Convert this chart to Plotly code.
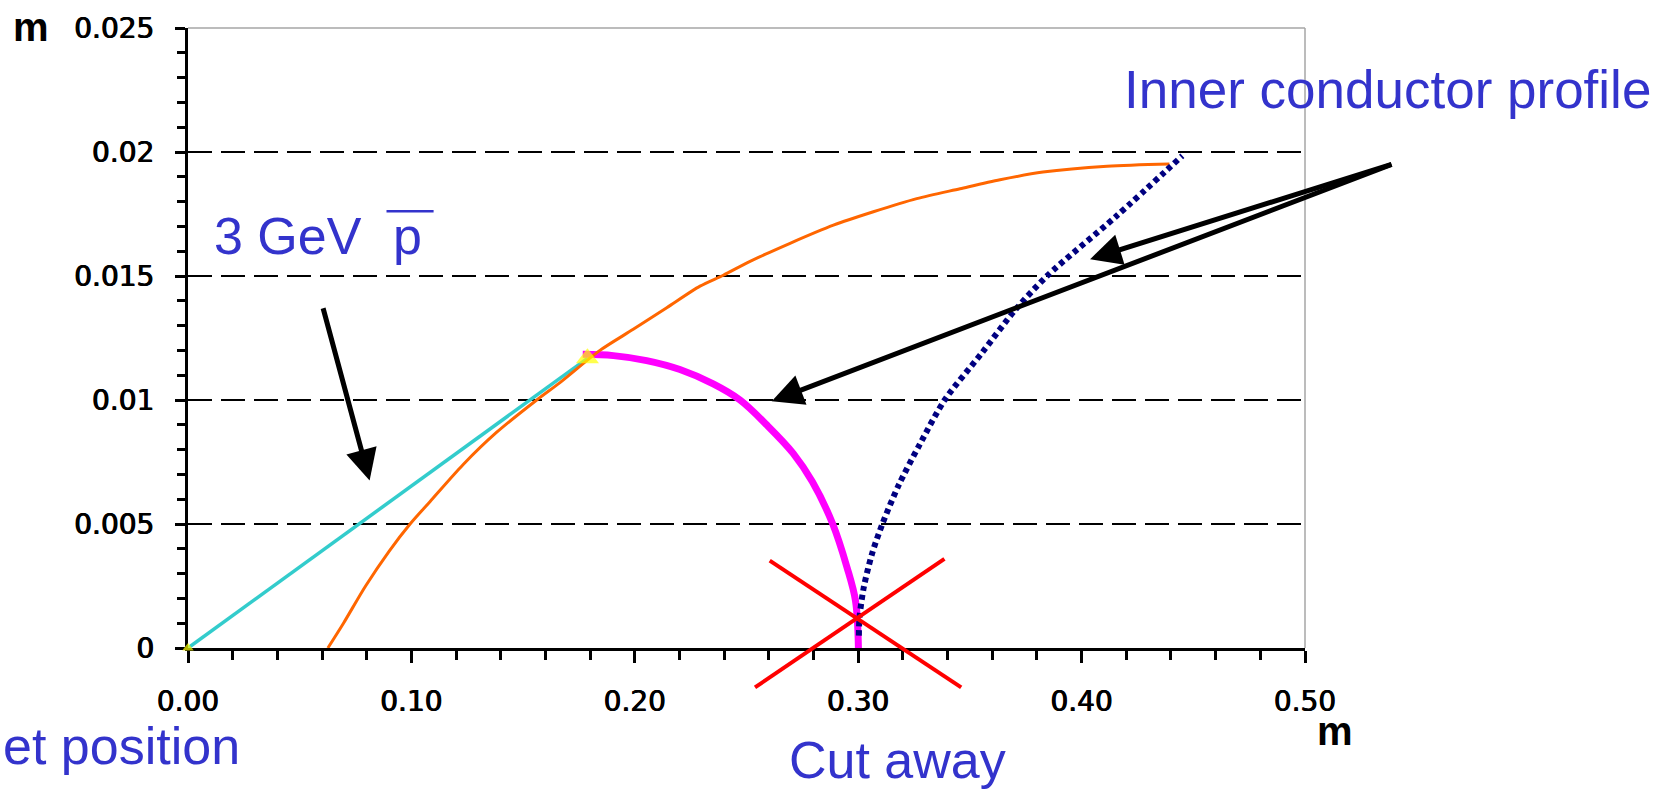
import plotly.graph_objects as go

# ---- data (metres) ----
beam_x = [0.0, 0.1788]
beam_y = [0.0, 0.01168]

outer_x = [0.0626, 0.0696, 0.0795, 0.0900, 0.0994, 0.1083, 0.1232, 0.1382, 0.1561,
           0.1665, 0.1844, 0.1993, 0.2143, 0.2292, 0.2396, 0.2516, 0.2695, 0.2889,
           0.3068, 0.3262, 0.3456, 0.3635, 0.3827, 0.4114, 0.4393]
outer_y = [0.0, 0.0010, 0.0025, 0.0039, 0.0050, 0.0059, 0.0074, 0.0087, 0.0100,
           0.0107, 0.0120, 0.01285, 0.01372, 0.01459, 0.01503, 0.01559, 0.01632, 0.01705,
           0.01759, 0.01812, 0.01852, 0.01888, 0.01919, 0.01943, 0.01952]

cut_x = [0.1767, 0.1904, 0.2053, 0.2202, 0.2351, 0.2471, 0.2590, 0.2709, 0.2795,
         0.2886, 0.2950, 0.2988, 0.3001]
cut_y = [0.01184, 0.01179, 0.01159, 0.01123, 0.01065, 0.0100, 0.0090, 0.00785, 0.0067,
         0.0050, 0.00325, 0.0019, 0.0]

inner_x = [0.3003, 0.3006, 0.3025, 0.3062, 0.3108, 0.3183, 0.3275, 0.3387, 0.3554,
           0.3700, 0.3845, 0.4154, 0.4451]
inner_y = [0.0005, 0.00125, 0.00245, 0.0038, 0.0050, 0.0066, 0.0082, 0.0100, 0.0119,
           0.0136, 0.0150, 0.0174, 0.01985]

# red cross marking the removed part (two strokes, data coords)
cross_a = [(0.2604, 0.00352), (0.3461, -0.00159)]
cross_b = [(0.2538, -0.00159), (0.3386, 0.00359)]

x_range = [0.0, 0.5]
y_range = [0.0, 0.025]
x_ticks = [0.0, 0.1, 0.2, 0.3, 0.4, 0.5]
y_ticks = [0.0, 0.005, 0.01, 0.015, 0.02, 0.025]

# ---- page geometry ----
W, H = 1673, 789
L, R, T, B = 188, 1305, 23, 648

def px(X):
    return (X - L) / (R - L)

def py(Y):
    return (B - Y) / (B - T)

def dx(v):
    return (v - x_range[0]) / (x_range[1] - x_range[0])

def dy(v):
    return (v - y_range[0]) / (y_range[1] - y_range[0])

BLUE = '#3333CC'
TEXT_FONT = 'Liberation Sans, Arial, sans-serif'
TICK_FONT = 'DejaVu Sans, Verdana, sans-serif'
TICK_SHADOW = '0.45px 0 0 #000, -0.45px 0 0 #000'

fig = go.Figure()

fig.add_trace(go.Scatter(x=beam_x, y=beam_y, mode='lines',
                         line=dict(color='#33CCCC', width=3.5), hoverinfo='skip'))
fig.add_trace(go.Scatter(x=cut_x, y=cut_y, mode='lines',
                         line=dict(color='#FF00FF', width=7, shape='spline',
                                   smoothing=1.0),
                         hoverinfo='skip'))
fig.add_trace(go.Scatter(x=outer_x, y=outer_y, mode='lines',
                         line=dict(color='#FF6600', width=3, shape='spline',
                                   smoothing=0.8),
                         hoverinfo='skip'))
fig.add_trace(go.Scatter(x=inner_x, y=inner_y, mode='lines',
                         line=dict(color='#000080', width=6, dash='5px,4px',
                                   shape='spline', smoothing=0.8),
                         hoverinfo='skip'))
# target point and end of the straight beam path
fig.add_trace(go.Scatter(x=[beam_x[0], beam_x[-1]], y=[beam_y[0], beam_y[-1]],
                         mode='markers', cliponaxis=False,
                         marker=dict(symbol='triangle-up', color='#FFFF00',
                                     size=[10, 20], line=dict(width=0)),
                         hoverinfo='skip'))

shapes = []
# plot frame (top and right) in light grey
shapes.append(dict(type='line', xref='paper', yref='paper', x0=0, x1=1, y0=1, y1=1,
                   line=dict(color='#A6A6A6', width=1.5)))
shapes.append(dict(type='line', xref='paper', yref='paper', x0=1, x1=1, y0=0, y1=1,
                   line=dict(color='#A6A6A6', width=1.5)))
# red cross
for seg in (cross_a, cross_b):
    (x0, y0), (x1, y1) = seg
    shapes.append(dict(type='line', xref='x domain', yref='y domain',
                       x0=dx(x0), y0=dy(y0), x1=dx(x1), y1=dy(y1),
                       line=dict(color='#FF0000', width=4)))
# bar over the antiproton symbol
shapes.append(dict(type='line', xref='paper', yref='paper',
                   x0=px(386.5), x1=px(433.6), y0=py(207.7), y1=py(207.7),
                   line=dict(color=BLUE, width=2.5)))

annotations = []

def label(text, X, Y, size, color=BLUE, bold=False, family=TEXT_FONT):
    t = '<b>' + text + '</b>' if bold else text
    annotations.append(dict(text=t, xref='paper', yref='paper', x=px(X), y=py(Y),
                            xanchor='left', yanchor='middle', showarrow=False,
                            font=dict(family=family, size=size, color=color)))

label('Inner conductor profile', 1122, 85.5, 53)
label('3 GeV', 211.5, 233, 52)
label('p', 390.5, 233, 52)
label('et position', 0.5, 747, 52)
label('Cut away', 786.5, 761, 52)
label('m', 10.5, 22, 40, color='black', bold=True)
label('m', 1314.5, 732, 40, color='black', bold=True)

# arrows: (head x, head y, tail x, tail y)
arrow_heads = [(0.4038, 0.01568), (0.2613, 0.00995), (0.0813, 0.00675)]
arrow_tails = [(0.5394, 0.01952), (0.5394, 0.01952), (0.0603, 0.01376)]
for (hx, hy), (tx, ty) in zip(arrow_heads, arrow_tails):
    annotations.append(dict(text='', x=hx, y=hy, xref='x', yref='y',
                            ax=tx, ay=ty, axref='x', ayref='y',
                            showarrow=True, arrowhead=2, arrowsize=1.25,
                            arrowwidth=5, arrowcolor='black', standoff=0))

tick_font = dict(family=TICK_FONT, size=28, color='black', shadow=TICK_SHADOW)

fig.update_layout(
    width=W, height=H,
    margin=dict(l=L, r=W - R, t=T, b=H - B, pad=0),
    paper_bgcolor='white', plot_bgcolor='white',
    showlegend=False,
    shapes=shapes,
    annotations=annotations,
    xaxis=dict(range=x_range, tickvals=x_ticks, tickformat='.2f',
               showgrid=False, zeroline=False, layer='below traces',
               showline=True, linecolor='black', linewidth=3,
               ticks='outside', ticklen=12, tickwidth=2.5, tickcolor='black',
               ticklabelstandoff=14,
               tickfont=tick_font,
               minor=dict(dtick=0.02, ticks='outside', ticklen=9, tickwidth=2.5,
                          tickcolor='black', showgrid=False)),
    yaxis=dict(range=y_range, tickvals=y_ticks,
               showgrid=True, gridcolor='black', gridwidth=2, griddash='24px,9px',
               zeroline=False, layer='below traces',
               showline=True, linecolor='black', linewidth=3,
               ticks='outside', ticklen=10, tickwidth=2.5, tickcolor='black',
               ticklabelstandoff=15,
               tickfont=tick_font,
               minor=dict(dtick=0.001, ticks='outside', ticklen=8, tickwidth=2.5,
                          tickcolor='black', showgrid=False)),
)

fig.write_html('out.html')
